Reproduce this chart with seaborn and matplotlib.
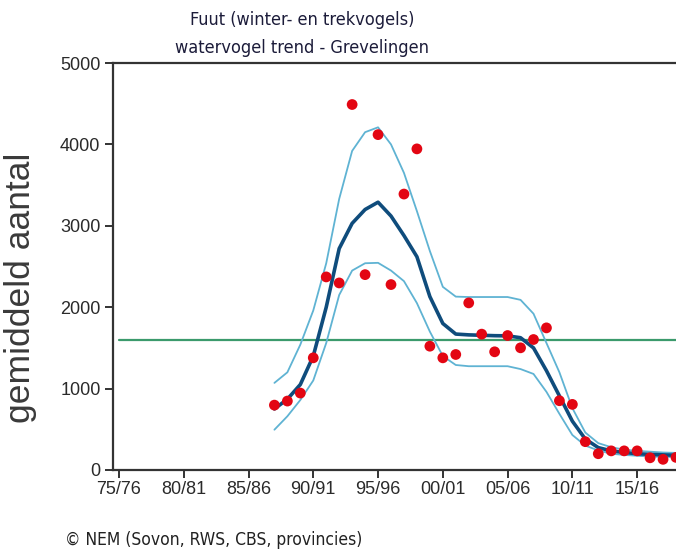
import matplotlib
matplotlib.use("Agg")
import matplotlib.pyplot as plt
import seaborn as sns
import pandas as pd

# Seasons (start year) with counted averages
years = list(range(1987, 2019))
counts = [797, 847, 945, 1378, 2372, 2298, 4490, 2400, 4120, 2278, 3390, 3945,
          1521, 1378, 1419, 2053, 1669, 1452, 1652, 1501, 1603, 1746,
          851, 806, 348, 200, 235, 235, 235, 150, 131, 155]

# Smoothed trend with its confidence band
trend = [750, 870, 1050, 1400, 2000, 2720, 3030, 3200, 3290, 3120, 2880, 2620,
         2130, 1800, 1670, 1660, 1655, 1650, 1648, 1625, 1500, 1220,
         910, 600, 380, 275, 235, 215, 200, 192, 186, 182]
upper = [1070, 1200, 1540, 1960, 2540, 3330, 3920, 4150, 4210, 4000, 3650, 3180,
         2690, 2250, 2130, 2125, 2125, 2125, 2125, 2090, 1920, 1560,
         1200, 760, 460, 330, 280, 250, 235, 225, 215, 210]
lower = [495, 660, 860, 1100, 1560, 2150, 2450, 2540, 2545, 2450, 2320, 2050,
         1700, 1400, 1290, 1275, 1275, 1275, 1275, 1240, 1180, 960,
         690, 430, 300, 240, 200, 185, 175, 165, 160, 160]

# Reference level
ref_years = [1975, 2019]
ref_level = [1600, 1600]

tick_years = [1975, 1980, 1985, 1990, 1995, 2000, 2005, 2010, 2015]
tick_labels = ["75/76", "80/81", "85/86", "90/91", "95/96", "00/01", "05/06", "10/11", "15/16"]
y_ticks = [0, 1000, 2000, 3000, 4000, 5000]

df = pd.DataFrame({"jaar": years, "aantal": counts, "trend": trend,
                   "boven": upper, "onder": lower})
ref = pd.DataFrame({"jaar": ref_years, "niveau": ref_level})

sns.set_style("ticks")
plt.rcParams["font.family"] = ["DejaVu Sans"]

fig = plt.figure(figsize=(6.76, 5.51), dpi=100)
ax = fig.add_axes([113 / 676, 1 - 470 / 551, 1 - 113 / 676, (470 - 63) / 551])

light = "#5fb3d3"
dark = "#0f4c7c"
sns.lineplot(data=ref, x="jaar", y="niveau", ax=ax, color="#3b9a6c", lw=1.6, zorder=1)
sns.lineplot(data=df, x="jaar", y="boven", ax=ax, color=light, lw=1.3, zorder=2)
sns.lineplot(data=df, x="jaar", y="onder", ax=ax, color=light, lw=1.3, zorder=2)
sns.lineplot(data=df, x="jaar", y="trend", ax=ax, color=dark, lw=2.6, zorder=3)
sns.scatterplot(data=df, x="jaar", y="aantal", ax=ax, color="#e30613", s=60,
                edgecolor="none", zorder=4, clip_on=False)

ax.set_xlim(1974.54, 2018.0)
ax.set_ylim(0, 5000)
ax.set_xticks(tick_years)
ax.set_xticklabels(tick_labels)
ax.set_yticks(y_ticks)

label_font = ["Liberation Sans Narrow", "Liberation Sans"]
for lab in ax.get_xticklabels() + ax.get_yticklabels():
    lab.set_family(label_font)
    lab.set_fontsize(13)
    lab.set_color("#2a2a2a")

ax.tick_params(axis="both", direction="out", length=6, width=1.4, color="#333333")
ax.tick_params(axis="x", pad=2)
ax.tick_params(axis="y", pad=3)

for side in ("left", "bottom", "top"):
    ax.spines[side].set_linewidth(1.6)
    ax.spines[side].set_color("#333333")
ax.spines["right"].set_visible(False)

ax.set_xlabel("")
ax.set_ylabel("gemiddeld aantal", fontsize=25.5, family=["Liberation Sans"], color="#3a3a3a")
ax.yaxis.set_label_coords(-0.135, 0.447)

title_kw = dict(ha="center", va="center", fontsize=13, fontstretch="condensed", color="#1c1c3a")
fig.text(302 / 676, 1 - 20 / 551, "Fuut (winter- en trekvogels)", **title_kw)
fig.text(302 / 676, 1 - 48 / 551, "watervogel trend - Grevelingen", **title_kw)
fig.text(65 / 676, 1 - 540 / 551, "\u00a9 NEM (Sovon, RWS, CBS, provincies)", ha="left",
         va="center", fontsize=12.5, fontstretch="condensed", color="#222222")

fig.savefig("out.png", dpi=100, facecolor="white")
